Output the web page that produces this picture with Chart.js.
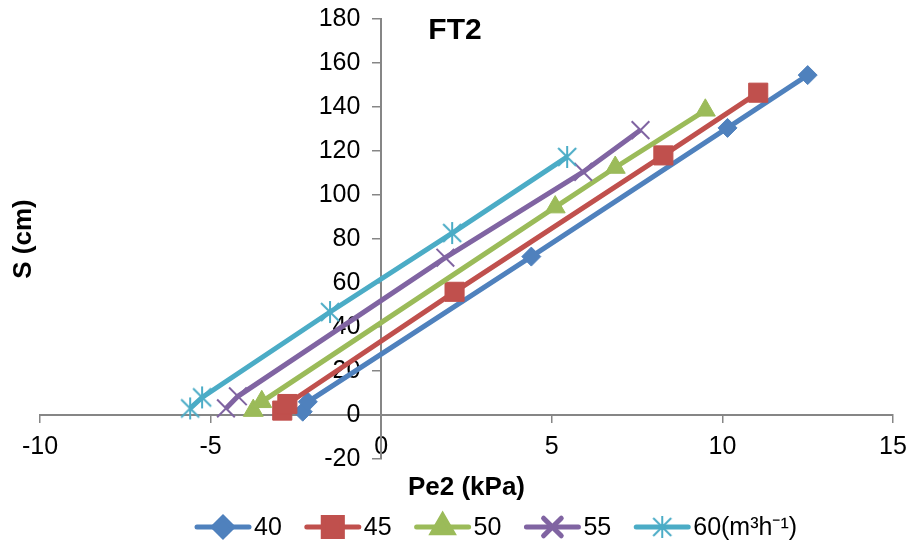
<!DOCTYPE html>
<html>
<head>
<meta charset="utf-8">
<script src="https://cdn.jsdelivr.net/npm/chart.js@4.4.1/dist/chart.umd.min.js"></script>
<style>
html,body{margin:0;padding:0;background:#fff;}
#wrap{width:911px;height:550px;}
</style>
</head>
<body>
<div id="wrap"><canvas id="c" width="911" height="550"></canvas></div>
<script>
// ---- data ----
const chartTitle = 'FT2';
const xTitle = 'Pe2 (kPa)';
const yTitle = 'S (cm)';
const seriesLabels = ['40', '45', '50', '55', '60(m³h⁻¹)'];

const pe40 = [-2.3, -2.15, 4.4, 10.15, 12.5];
const s40  = [1.5, 6, 72, 130.5, 154.5];
const pe45 = [-2.9, -2.75, 2.15, 8.27, 11.05];
const s45  = [2, 5, 56, 118, 146.5];
const pe50 = [-3.75, -3.5, 5.1, 6.86, 9.5];
const s50  = [2, 6, 94.5, 112.5, 138.5];
const pe55 = [-4.55, -4.2, 1.88, 5.92, 7.6];
const s55  = [3, 8.5, 71.5, 110.5, 129.5];
const pe60 = [-5.6, -5.25, -1.5, 2.08, 5.45];
const s60  = [3, 8, 46.8, 82.7, 117.3];

const xTickValues = [-10, -5, 0, 5, 10, 15];
const yTickValues = [-20, 0, 20, 40, 60, 80, 100, 120, 140, 160, 180];

// ---- styles ----
const FONT = "'Liberation Sans', Arial, sans-serif";
const AXIS = '#868686';
const COLORS = ['#4F81BD', '#C0504D', '#9BBB59', '#8064A2', '#4BACC6'];

function asteriskImage(color) {
  const c = document.createElement('canvas');
  c.width = 22; c.height = 24;
  const g = c.getContext('2d');
  g.strokeStyle = color; g.lineWidth = 2;
  g.beginPath();
  g.moveTo(11, 1); g.lineTo(11, 23);
  g.moveTo(2, 3); g.lineTo(20, 21);
  g.moveTo(20, 3); g.lineTo(2, 21);
  g.stroke();
  return c;
}

const POINT_STYLES = ['rectRot', 'rect', 'triangle', 'crossRot', asteriskImage(COLORS[4])];
const POINT_RADII = [9.5, 13.5, 11.5, 12.5, 11];
const POINT_BORDERS = [1, 1, 1, 2, 2];

const xs = [pe40, pe45, pe50, pe55, pe60];
const ys = [s40, s45, s50, s55, s60];

const datasets = seriesLabels.map((lab, i) => ({
  label: lab,
  data: xs[i].map((x, j) => ({x: x, y: ys[i][j]})),
  showLine: true,
  borderColor: COLORS[i],
  backgroundColor: COLORS[i],
  borderWidth: 5,
  tension: 0,
  pointStyle: POINT_STYLES[i],
  pointRadius: POINT_RADII[i],
  pointBorderWidth: POINT_BORDERS[i],
  pointBackgroundColor: COLORS[i],
  pointBorderColor: COLORS[i],
  order: seriesLabels.length - i,
  clip: false
}));

// Title + legend drawn on the canvas
const decorPlugin = {
  id: 'decor',
  afterDraw(chart) {
    const ctx = chart.ctx;
    ctx.save();
    // chart title
    ctx.fillStyle = '#000';
    ctx.font = 'bold 30px ' + FONT;
    ctx.textAlign = 'center';
    ctx.textBaseline = 'middle';
    ctx.fillText(chartTitle, 455, 31);
    // legend
    ctx.font = '25px ' + FONT;
    ctx.textAlign = 'left';
    let x = 195;
    const y = 527;
    chart.data.datasets.forEach((ds, i) => {
      ctx.strokeStyle = ds.borderColor;
      ctx.lineWidth = 5;
      ctx.lineCap = 'round';
      ctx.beginPath();
      ctx.moveTo(x + 2, y);
      ctx.lineTo(x + 54, y);
      ctx.stroke();
      ctx.fillStyle = ds.pointBackgroundColor;
      ctx.strokeStyle = ds.pointBorderColor;
      Chart.helpers.drawPoint(ctx, {
        pointStyle: ds.pointStyle, radius: ds.pointRadius, rotation: 0, borderWidth: ds.pointBorderWidth
      }, x + 28, y);
      ctx.fillStyle = '#000';
      ctx.fillText(ds.label, x + 59, y + 1);
      x += 59 + ctx.measureText(ds.label).width + 23;
    });
    ctx.restore();
  }
};

new Chart(document.getElementById('c'), {
  type: 'scatter',
  data: {datasets: datasets},
  options: {
    responsive: false,
    animation: false,
    layout: {padding: {left: 0, right: 18, top: 19, bottom: 91}},
    plugins: {legend: {display: false}, tooltip: {enabled: false}},
    scales: {
      x: {
        type: 'linear',
        position: {y: 0},
        min: -10, max: 15,
        afterBuildTicks: s => { s.ticks = xTickValues.map(v => ({value: v})); },
        afterFit: s => { s.paddingLeft = 0; s.paddingRight = 0; },
        grid: {display: true, drawOnChartArea: false, drawTicks: true, tickLength: 7, color: AXIS, lineWidth: 1.5},
        border: {display: true, color: AXIS, width: 2},
        ticks: {font: {size: 25, family: FONT}, color: '#000', padding: 10, maxRotation: 0, autoSkip: false},
        title: {display: true, text: xTitle, color: '#000', font: {size: 26, weight: 'bold', family: FONT}, padding: {top: 0, bottom: 0}}
      },
      y: {
        type: 'linear',
        position: {x: 0},
        min: -20, max: 180,
        afterBuildTicks: s => { s.ticks = yTickValues.map(v => ({value: v})); },
        afterFit: s => { s.paddingTop = 0; s.paddingBottom = 0; },
        grid: {display: true, drawOnChartArea: false, drawTicks: true, tickLength: 8, color: AXIS, lineWidth: 1.5},
        border: {display: true, color: AXIS, width: 2},
        ticks: {
          font: {size: 25, family: FONT}, color: '#000', autoSkip: false,
          callback: v => v + '   '
        }
      },
      yTitle: {
        axis: 'y',
        type: 'linear',
        position: 'left',
        display: true,
        afterFit: s => { s.width = 40; },
        grid: {display: false},
        border: {display: false},
        ticks: {display: false},
        title: {display: true, text: yTitle, color: '#000', font: {size: 26, weight: 'bold', family: FONT}, padding: {top: 8, bottom: 0}}
      }
    }
  },
  plugins: [decorPlugin]
});
</script>
</body>
</html>
